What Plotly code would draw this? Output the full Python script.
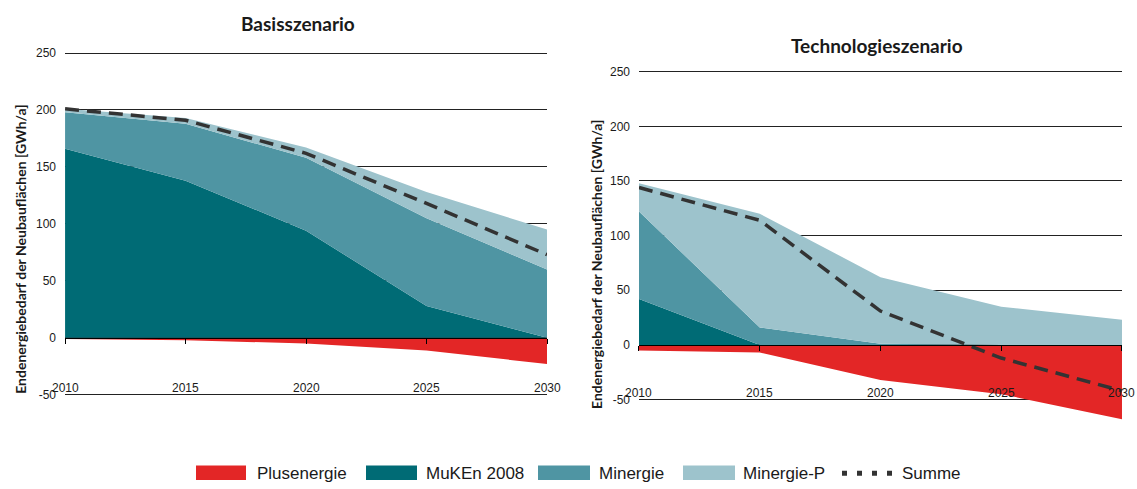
import plotly.graph_objects as go

# --- data -------------------------------------------------------------
years = [2010, 2015, 2020, 2025, 2030]
year_labels = ["2010", "2015", "2020", "2025", "2030"]
y_ticks = [-50, 0, 50, 100, 150, 200, 250]

# Basisszenario (GWh/a, stacked components)
basis_plus = [-1, -2, -5, -11, -23]
basis_muken = [166, 138, 94, 28, 0]
basis_minergie = [32, 50, 64, 77, 60]
basis_minergie_p = [3, 5, 9, 23, 35]
basis_summe = [201, 191, 162, 118, 73]

# Technologieszenario (GWh/a, stacked components)
tech_plus = [-5, -7, -32, -45, -68]
tech_muken = [42, 0, 0, 0, 0]
tech_minergie = [80, 16, 1, 0, 0]
tech_minergie_p = [26, 104, 61, 35, 23]
tech_summe = [144, 114, 31, -12, -42]

colors = {
    "Plusenergie": "#E32626",
    "MuKEn 2008": "#006B75",
    "Minergie": "#4F95A3",
    "Minergie-P": "#9DC3CC",
    "Summe": "#333333",
}

TICK_FONT = "Liberation Sans Narrow, Arial Narrow, Liberation Sans, sans-serif"
BOLD_FONT = "Lato, Open Sans, sans-serif"
TXT = "#1a1a1a"

fig = go.Figure()

panels = [
    dict(key="", title="Basisszenario", plus=basis_plus, muken=basis_muken,
         minergie=basis_minergie, minergie_p=basis_minergie_p, summe=basis_summe,
         xdom=[0.0572, 0.4811], ydom=[0.1814, 0.9045], yrange=[-52, 252],
         title_xy=(0.262, 0.961), ytitle_xy=(0.0185, 0.489)),
    dict(key="2", title="Technologieszenario", plus=tech_plus, muken=tech_muken,
         minergie=tech_minergie, minergie_p=tech_minergie_p, summe=tech_summe,
         xdom=[0.5620, 0.9868], ydom=[0.1260, 0.8654], yrange=[-72, 252],
         title_xy=(0.771, 0.916), ytitle_xy=(0.5245, 0.458)),
]

annotations = []
for p in panels:
    xa = "x" + p["key"]
    ya = "y" + p["key"]
    # negative part below zero
    fig.add_trace(go.Scatter(
        x=years, y=p["plus"], xaxis=xa, yaxis=ya, mode="lines",
        line=dict(width=0, color=colors["Plusenergie"]), fill="tozeroy",
        fillcolor=colors["Plusenergie"], showlegend=False, hoverinfo="skip"))
    # positive stacked areas
    for name, vals in [("MuKEn 2008", p["muken"]), ("Minergie", p["minergie"]),
                       ("Minergie-P", p["minergie_p"])]:
        fig.add_trace(go.Scatter(
            x=years, y=vals, xaxis=xa, yaxis=ya, mode="lines",
            stackgroup="pos" + p["key"], line=dict(width=0, color=colors[name]),
            fillcolor=colors[name], showlegend=False, name=name))
    # total line
    fig.add_trace(go.Scatter(
        x=years, y=p["summe"], xaxis=xa, yaxis=ya, mode="lines",
        line=dict(color=colors["Summe"], width=3.5, dash="14px,8px"),
        showlegend=False, name="Summe"))

    y0, y1 = p["yrange"]
    d0, d1 = p["ydom"]
    zero_pos = d0 + (0 - y0) / (y1 - y0) * (d1 - d0)

    fig.layout["xaxis" + p["key"]] = dict(
        domain=p["xdom"], range=[2010, 2030], anchor="free", position=zero_pos,
        tickvals=years, showticklabels=False, ticks="outside", ticklen=5,
        tickcolor="#000", showline=True, linecolor="#000", linewidth=1.3,
        showgrid=False, zeroline=False, fixedrange=True)
    fig.layout["yaxis" + p["key"]] = dict(
        domain=p["ydom"], range=p["yrange"], anchor=xa, tickvals=y_ticks,
        ticktext=[str(v) for v in y_ticks], showgrid=True, gridcolor="#222",
        gridwidth=1, zeroline=False, showline=False, ticks="",
        tickfont=dict(family=TICK_FONT, size=12, color=TXT), ticklabelstandoff=8,
        fixedrange=True)

    # year labels sitting on the -50 gridline
    for yr, lab in zip(years, year_labels):
        annotations.append(dict(
            x=yr, y=-50, xref=xa, yref=ya, text=lab, showarrow=False,
            yanchor="middle", xanchor="center", yshift=7,
            font=dict(family=TICK_FONT, size=12, color=TXT)))

    tx, ty = p["title_xy"]
    annotations.append(dict(
        x=tx, y=ty, xref="paper", yref="paper", text="<b>%s</b>" % p["title"],
        showarrow=False, xanchor="center", yanchor="middle",
        font=dict(family=BOLD_FONT, size=19, color=TXT)))
    yx, yy = p["ytitle_xy"]
    annotations.append(dict(
        x=yx, y=yy, xref="paper", yref="paper",
        text="<b>Endenergiebedarf der Neubauflächen [GWh/a]</b>",
        showarrow=False, textangle=-90, xanchor="center", yanchor="middle",
        font=dict(family=BOLD_FONT, size=14, color=TXT)))

# --- legend row ---------------------------------------------------------
W, H = 1137, 489
legend_items = [
    ("Plusenergie", 196, 246, 255),
    ("MuKEn 2008", 366, 417, 424),
    ("Minergie", 538, 590, 597),
    ("Minergie-P", 683, 735, 741),
    ("Summe", 842, 893, 900),
]
shapes = []
ly0, ly1 = 1 - 485 / H, 1 - 470 / H
lyc = 1 - 478 / H
for name, sx0, sx1, tx in legend_items:
    if name == "Summe":
        shapes.append(dict(type="line", xref="paper", yref="paper",
                           x0=sx0 / W, x1=sx1 / W, y0=lyc, y1=lyc,
                           line=dict(color=colors[name], width=5, dash="5px,10px")))
    else:
        shapes.append(dict(type="rect", xref="paper", yref="paper",
                           x0=sx0 / W, x1=sx1 / W, y0=ly0, y1=ly1,
                           fillcolor=colors[name], line=dict(width=0)))
    annotations.append(dict(x=tx / W, y=lyc, xref="paper", yref="paper",
                            text=name, showarrow=False, xanchor="left",
                            yanchor="middle",
                            font=dict(family=TICK_FONT, size=17, color=TXT)))

fig.update_layout(
    width=W, height=H, margin=dict(l=0, r=0, t=0, b=0),
    paper_bgcolor="white", plot_bgcolor="white",
    showlegend=False, annotations=annotations, shapes=shapes,
)

fig.write_html("out.html")
